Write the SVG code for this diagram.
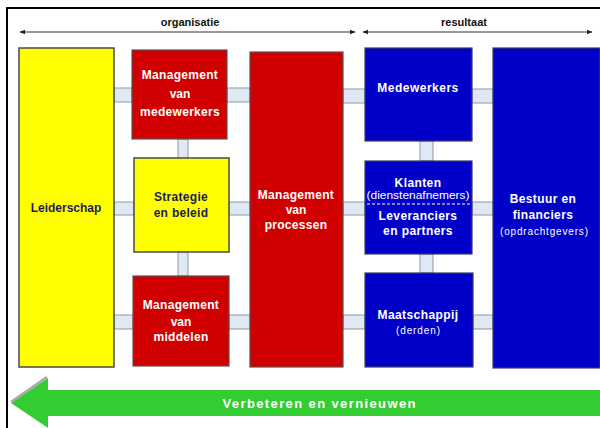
<svg xmlns="http://www.w3.org/2000/svg" width="600" height="428" viewBox="0 0 600 428">
<defs>
<style>
.t{font-family:"Liberation Sans",Arial,sans-serif;font-weight:bold;text-anchor:middle}
.w{fill:#ffffff;font-size:12px}
.n{fill:#1c1c5a;font-size:12px}
.s{fill:#ffffff;font-size:10px;font-weight:normal}
.red{fill:#d00000;stroke:#6a4a4a;stroke-width:1.2}
.yel{fill:#ffff00;stroke:#4a4a4a;stroke-width:1.5}
.blu{fill:#0000c8;stroke:#3a3a6a;stroke-width:1.2}
.con{fill:#dfe8f3;stroke:#8c99a6;stroke-width:1}
.ax{stroke:#333;stroke-width:1}
</style>
<marker id="ah" viewBox="0 0 10 10" refX="9" refY="5" markerWidth="6" markerHeight="6" orient="auto-start-reverse">
<path d="M0,1 L10,5 L0,9 z" fill="#222"/>
</marker>
</defs>
<rect x="0" y="0" width="600" height="428" fill="#ffffff"/>
<path d="M7,428 V8 H600" fill="none" stroke="#000" stroke-width="2"/>

<g id="axis">
<line class="ax" x1="20" y1="32" x2="355" y2="32" marker-start="url(#ah)" marker-end="url(#ah)"/>
<line class="ax" x1="363" y1="32" x2="592" y2="32" marker-start="url(#ah)" marker-end="url(#ah)"/>
<text class="t" x="190" y="26" font-size="11" fill="#111">organisatie</text>
<text class="t" x="464" y="26" font-size="11" fill="#111">resultaat</text>
</g>

<g id="connectors">
<rect class="con" x="114" y="88" width="18" height="14"/>
<rect class="con" x="114" y="202" width="20" height="13"/>
<rect class="con" x="114" y="315" width="19" height="14"/>
<rect class="con" x="227" y="88" width="23" height="14"/>
<rect class="con" x="229" y="202" width="21" height="13"/>
<rect class="con" x="229" y="315" width="21" height="14"/>
<rect class="con" x="178" y="139" width="10" height="19"/>
<rect class="con" x="178" y="252" width="10" height="24"/>
<rect class="con" x="343" y="89" width="22" height="14"/>
<rect class="con" x="343" y="202" width="22" height="13"/>
<rect class="con" x="343" y="315" width="22" height="14"/>
<rect class="con" x="472" y="89" width="21" height="14"/>
<rect class="con" x="472" y="202" width="21" height="13"/>
<rect class="con" x="473" y="315" width="20" height="14"/>
<rect class="con" x="420" y="141" width="13" height="20"/>
<rect class="con" x="420" y="254" width="13" height="19"/>
</g>

<g id="leiderschap">
<rect class="yel" x="19" y="48" width="95" height="319"/>
<text class="t n" x="66" y="212">Leiderschap</text>
</g>

<g id="mgmt-medewerkers">
<rect class="red" x="132" y="50" width="95" height="89"/>
<text class="t w" x="180" y="79" letter-spacing="0.3">Management</text>
<text class="t w" x="180" y="98">van</text>
<text class="t w" x="180" y="116" letter-spacing="0.3">medewerkers</text>
</g>

<g id="strategie">
<rect class="yel" x="134" y="158" width="95" height="94"/>
<text class="t n" x="181" y="201" letter-spacing="0.3">Strategie</text>
<text class="t n" x="181" y="217" letter-spacing="0.3">en beleid</text>
</g>

<g id="mgmt-middelen">
<rect class="red" x="133" y="276" width="96" height="90"/>
<text class="t w" x="181" y="309" letter-spacing="0.3">Management</text>
<text class="t w" x="181" y="326">van</text>
<text class="t w" x="181" y="341" letter-spacing="0.3">middelen</text>
</g>

<g id="mgmt-processen">
<rect class="red" x="250" y="52" width="93" height="315"/>
<text class="t w" x="296" y="199" letter-spacing="0.3">Management</text>
<text class="t w" x="296" y="214">van</text>
<text class="t w" x="296" y="229" letter-spacing="0.3">processen</text>
</g>

<g id="medewerkers">
<rect class="blu" x="365" y="48" width="107" height="93"/>
<text class="t w" x="418" y="92" letter-spacing="0.5">Medewerkers</text>
</g>

<g id="klanten">
<rect class="blu" x="365" y="161" width="107" height="93"/>
<text class="t w" x="418" y="187" letter-spacing="0.4">Klanten</text>
<text class="t s" x="418" y="199" font-size="9" font-weight="bold" textLength="103" lengthAdjust="spacingAndGlyphs">(dienstenafnemers)</text>
<line x1="367" y1="204" x2="470" y2="204" stroke="#ffffff" stroke-width="1" stroke-dasharray="3,2"/>
<text class="t w" x="418" y="220" letter-spacing="0.4">Leveranciers</text>
<text class="t w" x="418" y="235" letter-spacing="0.4">en partners</text>
</g>

<g id="maatschappij">
<rect class="blu" x="365" y="273" width="108" height="94"/>
<text class="t w" x="418" y="319" letter-spacing="0.4">Maatschappij</text>
<text class="t s" x="418" y="334" textLength="44" lengthAdjust="spacing">(derden)</text>
</g>

<g id="bestuur">
<rect class="blu" x="493" y="48" width="107" height="320"/>
<text class="t w" x="543" y="203" letter-spacing="0.4">Bestuur en</text>
<text class="t w" x="543" y="219" letter-spacing="0.4">financiers</text>
<text class="t s" x="544" y="235" textLength="88" lengthAdjust="spacing">(opdrachtgevers)</text>
</g>

<g id="verbeteren">
<polygon points="11,403 48,378 48,390 600,390 600,416 48,416 48,428 11,403" fill="#33cc33"/>
<polyline points="11,402 47,377" fill="none" stroke="#a8a8a8" stroke-width="2.5"/>
<text class="t" x="319" y="408" font-size="13" fill="#ffffff" textLength="193" lengthAdjust="spacing">Verbeteren en vernieuwen</text>
</g>
</svg>
